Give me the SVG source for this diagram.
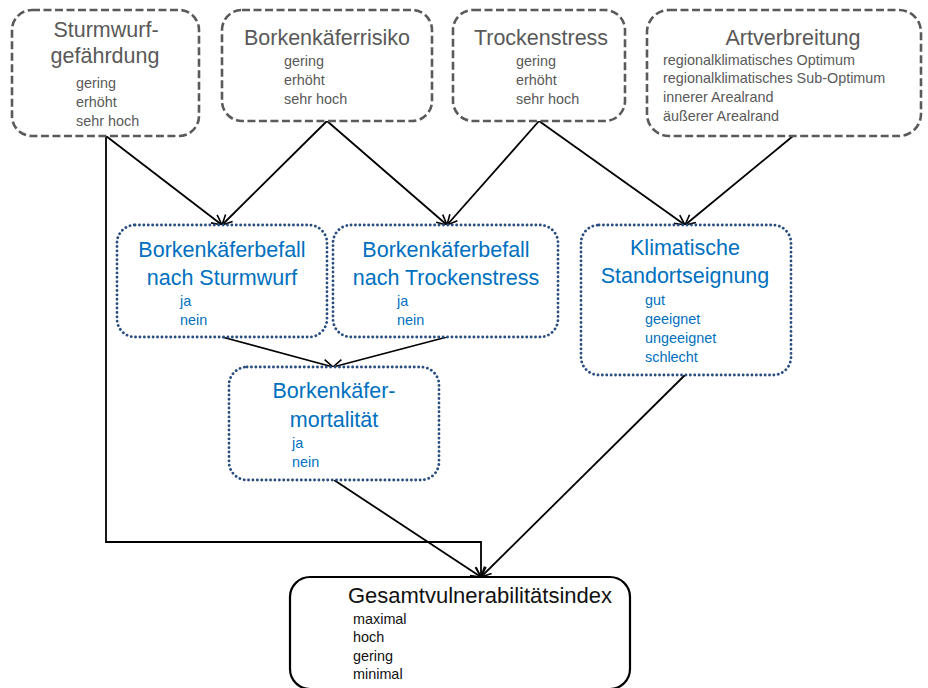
<svg xmlns="http://www.w3.org/2000/svg" width="928" height="688" viewBox="0 0 928 688">
<defs>
<marker id="arr" viewBox="0 0 12 12" refX="11" refY="6" markerWidth="12" markerHeight="12" markerUnits="userSpaceOnUse" orient="auto">
<path d="M1,1 L11,6 L1,11" fill="none" stroke="#000" stroke-width="1.6"/>
</marker>
<style>
.gbox{fill:#fff;stroke:#5a5a5a;stroke-width:2.6;stroke-dasharray:8 3.5}
.bbox{fill:#fff;stroke:#2a4d80;stroke-width:2.8;stroke-dasharray:0.1 4.3;stroke-linecap:round}
.kbox{fill:#fff;stroke:#000;stroke-width:2.2}
text{font-family:"Liberation Sans",Arial,sans-serif}
.gt{fill:#595959;font-size:21.5px;text-anchor:middle}
.gs{fill:#595959;font-size:14.4px}
.bt{fill:#0070c0;font-size:21.5px;text-anchor:middle}
.bs{fill:#0070c0;font-size:14.4px}
.kt{fill:#111;font-size:22px;text-anchor:middle}
.ks{fill:#111;font-size:14.4px}
.c{fill:none;stroke:#000;stroke-width:1.8}
</style>
</defs>
<g id="connectors">
<line class="c" x1="106" y1="136" x2="222" y2="225" marker-end="url(#arr)"/>
<line class="c" x1="327" y1="121" x2="222" y2="225" marker-end="url(#arr)"/>
<line class="c" x1="327" y1="121" x2="447" y2="225" marker-end="url(#arr)"/>
<line class="c" x1="539" y1="121" x2="447" y2="225" marker-end="url(#arr)"/>
<line class="c" x1="539" y1="121" x2="685" y2="225" marker-end="url(#arr)"/>
<line class="c" x1="793" y1="136" x2="685" y2="225" marker-end="url(#arr)"/>
<line class="c" x1="222" y1="337" x2="333" y2="367" marker-end="url(#arr)"/>
<line class="c" x1="447" y1="337" x2="333" y2="367" marker-end="url(#arr)"/>
<line class="c" x1="334" y1="480" x2="481" y2="577" marker-end="url(#arr)"/>
<line class="c" x1="685" y1="375" x2="481" y2="577" marker-end="url(#arr)"/>
<polyline class="c" points="106,136 106,542 481,542 481,577" marker-end="url(#arr)"/>
</g>
<g id="sturmwurf">
<rect class="gbox" x="12" y="10" width="187" height="126" rx="20"/>
<text class="gt" x="106" y="37">Sturmwurf-</text>
<text class="gt" x="105" y="63">gefährdung</text>
<text class="gs" x="76" y="88">gering</text>
<text class="gs" x="76" y="107">erhöht</text>
<text class="gs" x="76" y="126">sehr hoch</text>
</g>
<g id="borkenkaeferrisiko">
<rect class="gbox" x="222" y="10" width="210" height="111" rx="20"/>
<text class="gt" x="327" y="45">Borkenkäferrisiko</text>
<text class="gs" x="284" y="66">gering</text>
<text class="gs" x="284" y="85">erhöht</text>
<text class="gs" x="284" y="104">sehr hoch</text>
</g>
<g id="trockenstress">
<rect class="gbox" x="453" y="10" width="172" height="111" rx="20"/>
<text class="gt" x="541" y="45">Trockenstress</text>
<text class="gs" x="516" y="66">gering</text>
<text class="gs" x="516" y="85">erhöht</text>
<text class="gs" x="516" y="104">sehr hoch</text>
</g>
<g id="artverbreitung">
<rect class="gbox" x="647" y="10" width="274" height="126" rx="22"/>
<text class="gt" x="793" y="45">Artverbreitung</text>
<text class="gs" x="663" y="65">regionalklimatisches Optimum</text>
<text class="gs" x="663" y="83">regionalklimatisches Sub-Optimum</text>
<text class="gs" x="663" y="102">innerer Arealrand</text>
<text class="gs" x="663" y="121">äußerer Arealrand</text>
</g>
<g id="befall-sturmwurf">
<rect class="bbox" x="117" y="225" width="210" height="112" rx="18"/>
<text class="bt" x="222" y="257">Borkenkäferbefall</text>
<text class="bt" x="222" y="285">nach Sturmwurf</text>
<text class="bs" x="180" y="306">ja</text>
<text class="bs" x="180" y="325">nein</text>
</g>
<g id="befall-trockenstress">
<rect class="bbox" x="333" y="225" width="225" height="112" rx="18"/>
<text class="bt" x="446" y="257">Borkenkäferbefall</text>
<text class="bt" x="446" y="285">nach Trockenstress</text>
<text class="bs" x="397" y="306">ja</text>
<text class="bs" x="397" y="325">nein</text>
</g>
<g id="klimatische-standortseignung">
<rect class="bbox" x="581" y="225" width="210" height="150" rx="18"/>
<text class="bt" x="685" y="255">Klimatische</text>
<text class="bt" x="685" y="283">Standortseignung</text>
<text class="bs" x="645" y="305">gut</text>
<text class="bs" x="645" y="324">geeignet</text>
<text class="bs" x="645" y="343">ungeeignet</text>
<text class="bs" x="645" y="362">schlecht</text>
</g>
<g id="borkenkaefer-mortalitaet">
<rect class="bbox" x="229" y="367" width="210" height="113" rx="18"/>
<text class="bt" x="334" y="398">Borkenkäfer-</text>
<text class="bt" x="334" y="427">mortalität</text>
<text class="bs" x="292" y="448">ja</text>
<text class="bs" x="292" y="467">nein</text>
</g>
<g id="gesamtvulnerabilitaetsindex">
<rect class="kbox" x="290" y="577" width="340" height="112" rx="20"/>
<text class="kt" x="480" y="603">Gesamtvulnerabilitätsindex</text>
<text class="ks" x="353" y="624">maximal</text>
<text class="ks" x="353" y="642">hoch</text>
<text class="ks" x="353" y="661">gering</text>
<text class="ks" x="353" y="679">minimal</text>
</g>
</svg>
